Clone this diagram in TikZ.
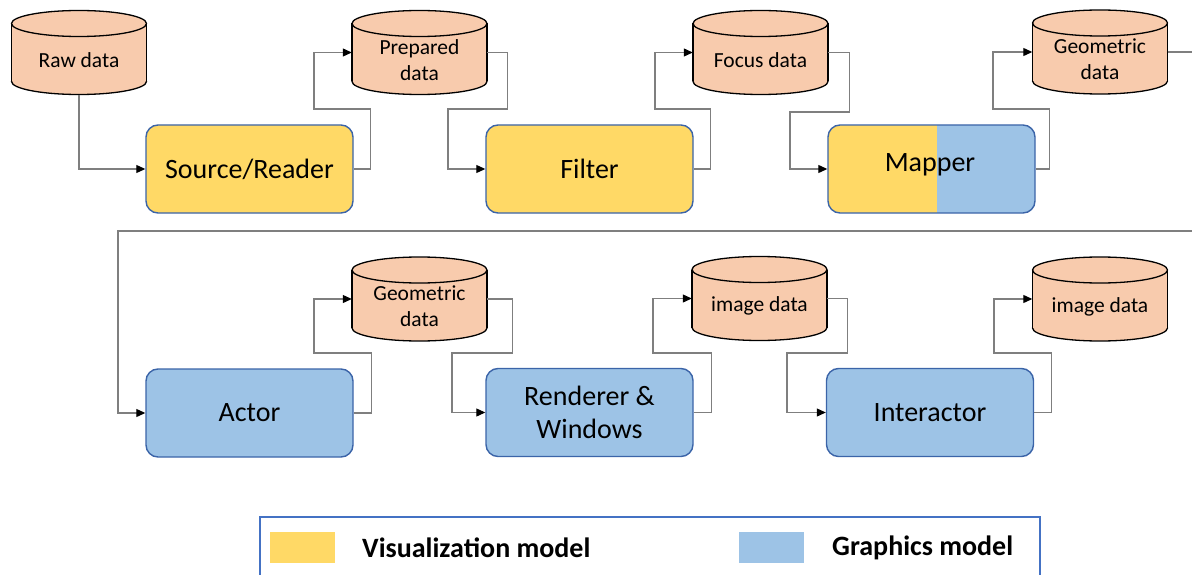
\documentclass[tikz,border=0pt]{standalone}
\usepackage{fontspec}
\setmainfont{Carlito}
\usetikzlibrary{arrows.meta}

\definecolor{vizfill}{HTML}{FFD966}
\definecolor{gfxfill}{HTML}{9DC3E6}
\definecolor{dbfill}{HTML}{F8CBAD}
\definecolor{boxline}{HTML}{3B64A8}
\definecolor{keyline}{HTML}{4472C4}
\definecolor{wirecol}{HTML}{7F7F7F}

% data store drawn as a cylinder: #1 name, #2 x, #3 y (centre), #4 label
\newcommand{\dbstore}[4]{%
  \node[dbbox] (#1) at (#2,#3) {};
  \filldraw[dbline] (#2,{#3+29}) ellipse [x radius=67.5, y radius=13];
  \fill[dbfill] ({#2-67.5},{#3-29}) rectangle ({#2+67.5},{#3+29});
  \draw[dbline] ({#2-67.5},{#3-29}) -- ({#2-67.5},{#3+29})
                ({#2+67.5},{#3-29}) -- ({#2+67.5},{#3+29});
  \filldraw[dbline] (#2,{#3-29}) ellipse [x radius=67.5, y radius=13];
  \node[dbtext] (#1-label) at (#2,{#3+7.5}) {#4};
}

\tikzset{
  dbbox/.style={minimum width=135pt, minimum height=84pt, inner sep=0pt},
  dbline/.style={draw=black, fill=dbfill, line width=1.3pt},
  dbtext/.style={font=\fontsize{21.5}{25.8}\selectfont, align=center, inner sep=0pt},
  stepbox/.style={draw=boxline, line width=1.4pt, rounded corners=12pt,
    minimum width=207pt, minimum height=88pt, inner sep=0pt,
    font=\fontsize{28}{33.6}\selectfont, align=center},
  vizbox/.style={stepbox, fill=vizfill},
  gfxbox/.style={stepbox, fill=gfxfill},
  wire/.style={draw=wirecol, line width=1.1pt,
    -{Triangle[length=9pt, width=8pt, color=black]}},
  swatch/.style={minimum width=65pt, minimum height=31pt, inner sep=0pt},
  keytext/.style={font=\fontsize{28}{33}\selectfont\bfseries, anchor=west, inner sep=0pt},
}

\begin{document}
\begin{tikzpicture}[x=1pt, y=-1pt]
  \useasboundingbox (0,0) rectangle (1192,575);
  \clip (0,0) rectangle (1192,575);

  % first row: data stores
  \dbstore{raw}{79}{52.5}{Raw data}
  \dbstore{prep}{419.5}{52.5}{Prepared\\data}
  \dbstore{focus}{760.5}{52.5}{Focus data}
  \dbstore{geoa}{1100}{52}{Geometric\\data}

  % first row: processing steps
  \node[vizbox] (src) at (249.5,169) {Source/Reader};
  \node[vizbox] (filt) at (589.5,169) {Filter};
  \node[gfxbox, path picture={\fill[vizfill, sharp corners] (path picture bounding box.south west)
      rectangle ([xshift=5pt]path picture bounding box.north);}] (map) at (931.5,169) {};
  \node[font=\fontsize{28}{33.6}\selectfont, inner sep=0pt] (map-label) at (930,165) {Mapper};

  % second row: data stores
  \dbstore{geob}{419.5}{299}{Geometric\\data}
  \dbstore{imga}{759.5}{298.5}{image data}
  \dbstore{imgb}{1100}{299}{image data}

  % second row: processing steps
  \node[gfxbox] (actor) at (249.5,413) {Actor};
  \node[gfxbox] (render) at (589.5,412.5) {Renderer \&\\Windows};
  \node[gfxbox] (inter) at (930,412.5) {Interactor};

  % first row connectors
  \draw[wire] (raw.south) |- (src.west);
  \draw[wire] (src.east) -- ++(17,0) |- (314,109) |- (prep.west);
  \draw[wire] (prep.east) -- ++(20,0) |- (448,109) |- (filt.west);
  \draw[wire] (filt.east) -- ++(17,0) |- (655,109) |- (focus.west);
  \draw[wire] (focus.east) -- ++(21,0) |- (790,112) |- (map.west);
  \draw[wire] (map.east) -- ++(14,0) |- (993,109) |- (geoa.west);

  % wrap-around to the second row
  \coordinate (wrap) at (1215,52);
  \draw[wire] (geoa.east) -- (wrap) |- (118,231) |- (actor.west);

  % second row connectors
  \draw[wire] (actor.east) -- ++(18,0) |- (314,353) |- (geob.west);
  \draw[wire] (geob.east) -- ++(25,0) |- (452,353) |- (render.west);
  \draw[wire] (render.east) -- ++(18,0) |- (653,353) |- (imga.west);
  \draw[wire] (imga.east) -- ++(20,0) |- (787,353) |- (inter.west);
  \draw[wire] (inter.east) -- ++(17,0) |- (994,353) |- (imgb.west);

  % legend
  \node[draw=keyline, line width=1.4pt, minimum width=780pt, minimum height=70pt,
        inner sep=0pt] (key) at (650,552) {};
  \node[swatch, fill=vizfill] (vizkey) at (302.5,547.5) {};
  \node[keytext] (vizkey-label) at (362,548) {Visualization model};
  \node[swatch, fill=gfxfill] (gfxkey) at (771.5,547.5) {};
  \node[keytext] (gfxkey-label) at (832,548) {Graphics model};
\end{tikzpicture}
\end{document}
